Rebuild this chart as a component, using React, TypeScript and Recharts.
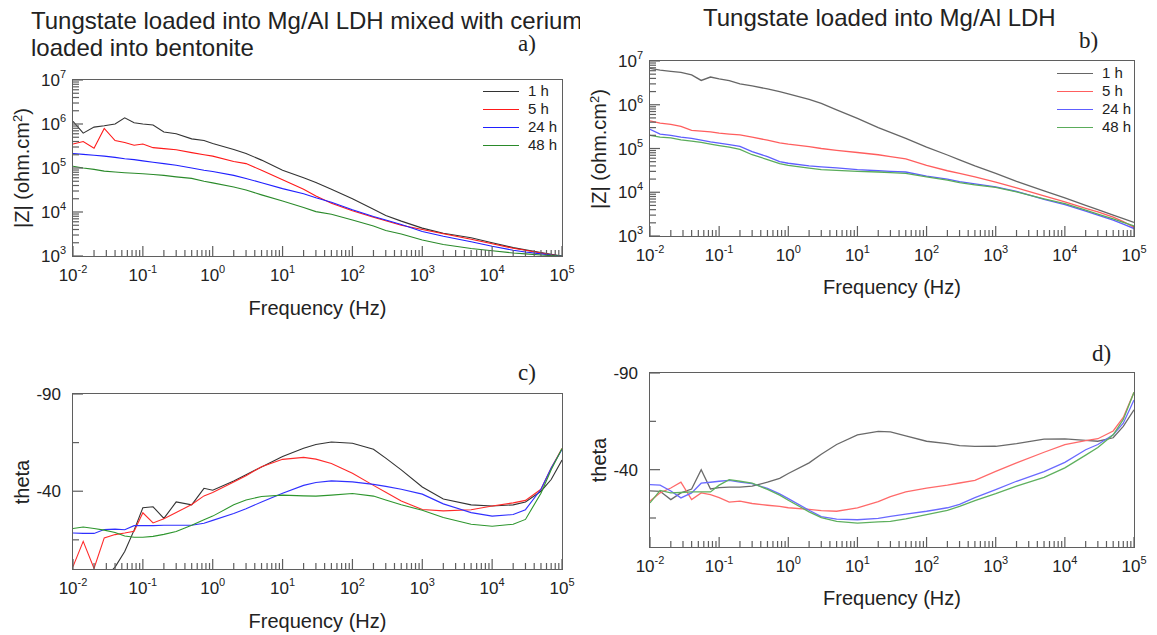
import { LineChart, Line, XAxis, YAxis } from "recharts";

// shared frequency grid (Hz) for every series
const FREQ = [
  0.01, 0.014, 0.02, 0.028, 0.04, 0.055, 0.075, 0.1, 0.14, 0.2, 0.3, 0.5, 0.75, 1, 2, 3, 5, 10, 20, 30, 50,
  100, 200, 300, 500, 1000, 2000, 5000, 1e4, 2e4, 3e4, 5e4, 7e4, 1e5,
];

const SERIES = ["1 h", "5 h", "24 h", "48 h"];

// a) |Z| (ohm.cm2), LDH + cerium in bentonite
const A_1H = [1.15e6, 6.2e5, 8.5e5, 9.1e5, 1.0e6, 1.38e6, 1.07e6, 1.0e6, 9.5e5, 6.6e5, 6.0e5, 4.6e5, 4.2e5, 3.6e5, 2.63e5, 2.14e5, 1.51e5, 8.9e4, 6.0e4, 4.7e4, 3.3e4, 2.0e4, 1.15e4, 8300, 6200, 4300, 3300, 2600, 2000, 1550, 1380, 1200, 1100, 1000];
const A_5H = [3.5e5, 4.0e5, 2.8e5, 7.9e5, 4.2e5, 3.8e5, 3.3e5, 3.5e5, 2.9e5, 2.75e5, 2.6e5, 2.24e5, 2.0e5, 1.86e5, 1.41e5, 1.26e5, 8.9e4, 5.4e4, 3.3e4, 2.3e4, 1.58e4, 1.07e4, 7600, 6300, 5000, 4000, 3200, 2400, 1900, 1500, 1350, 1170, 1070, 1000];
const A_24H = [2.14e5, 2.04e5, 1.95e5, 1.86e5, 1.74e5, 1.62e5, 1.55e5, 1.45e5, 1.35e5, 1.26e5, 1.15e5, 1.0e5, 8.9e4, 8.3e4, 6.8e4, 5.8e4, 4.6e4, 3.4e4, 2.6e4, 2.1e4, 1.66e4, 1.12e4, 7900, 6600, 5200, 3600, 2800, 2100, 1660, 1350, 1230, 1120, 1050, 1000];
const A_48H = [1.1e5, 1.0e5, 9.3e4, 8.5e4, 8.1e4, 7.8e4, 7.6e4, 7.4e4, 7.1e4, 6.8e4, 6.3e4, 5.8e4, 5.0e4, 4.6e4, 3.7e4, 3.16e4, 2.45e4, 1.78e4, 1.26e4, 1.02e4, 8900, 6600, 4800, 3800, 3160, 2300, 1820, 1480, 1320, 1170, 1120, 1050, 1020, 1000];

// b) |Z| (ohm.cm2), LDH only
const B_1H = [6.8e6, 6.2e6, 5.8e6, 5.5e6, 4.8e6, 3.6e6, 4.3e6, 3.9e6, 3.55e6, 3.0e6, 2.7e6, 2.3e6, 2.0e6, 1.78e6, 1.32e6, 1.07e6, 7.6e5, 4.9e5, 3.0e5, 2.34e5, 1.7e5, 1.07e5, 7.1e4, 5.5e4, 4.0e4, 2.7e4, 1.78e4, 1.07e4, 7400, 5000, 4000, 3000, 2500, 2040];
const B_5H = [4.3e5, 3.8e5, 3.55e5, 3.2e5, 2.6e5, 2.5e5, 2.4e5, 2.24e5, 2.14e5, 2.04e5, 1.82e5, 1.55e5, 1.35e5, 1.26e5, 1.1e5, 1.0e5, 9.1e4, 8.1e4, 7.2e4, 6.5e4, 5.8e4, 4.1e4, 3.1e4, 2.7e4, 2.24e4, 1.7e4, 1.26e4, 8300, 6000, 4300, 3550, 2700, 2140, 1580];
const B_24H = [2.75e5, 2.14e5, 2.0e5, 1.82e5, 1.7e5, 1.55e5, 1.41e5, 1.32e5, 1.23e5, 1.12e5, 8.5e4, 6.5e4, 5.0e4, 4.6e4, 4.0e4, 3.8e4, 3.6e4, 3.3e4, 3.1e4, 3.0e4, 2.9e4, 2.34e4, 2.0e4, 1.74e4, 1.55e4, 1.32e4, 1.05e4, 6900, 5200, 3700, 3000, 2300, 1860, 1480];
const B_48H = [2.0e5, 1.82e5, 1.74e5, 1.58e5, 1.48e5, 1.38e5, 1.26e5, 1.17e5, 1.07e5, 9.5e4, 7.2e4, 5.6e4, 4.5e4, 4.1e4, 3.55e4, 3.3e4, 3.16e4, 3.0e4, 2.9e4, 2.8e4, 2.7e4, 2.24e4, 1.9e4, 1.66e4, 1.48e4, 1.29e4, 1.02e4, 7100, 5500, 3900, 3160, 2450, 2040, 1700];

// c) phase angle (deg), LDH + cerium in bentonite
const C_1H = [18, 14, 10, 5, -1, -9, -20, -31.5, -32, -26, -34.5, -33, -41.5, -40.5, -45.3, -48.5, -52.5, -57.8, -62.1, -64, -65.3, -64.7, -61.6, -57, -51, -42.2, -36, -33, -32.4, -33, -34.5, -40, -46, -56];
const C_5H = [-1.2, -14.2, -0.3, -16, -17.7, -18.5, -19.4, -28.9, -23.7, -25.8, -29, -33.2, -37.6, -39.3, -44.8, -48, -52.6, -56.4, -57.4, -56.5, -54.3, -49.2, -43, -39.5, -35, -30.6, -29.9, -30.5, -32.4, -34, -35.3, -41, -52, -62];
const C_24H = [-18.5, -18.3, -18.3, -20.3, -20.5, -20.2, -22.3, -22.3, -22.3, -22.5, -22.5, -22.5, -23.5, -25, -28.5, -31, -34.5, -39, -43, -44.5, -45.3, -44.8, -43.5, -42.5, -41, -38.5, -33.5, -29, -27.2, -28, -30.5, -41, -52, -61.5];
const C_48H = [-20.8, -21.6, -20.8, -20, -18.8, -17, -16.3, -16.3, -16.8, -17.8, -19.3, -22.5, -25.3, -27.2, -33, -35.5, -37.3, -38, -37.6, -37.5, -38, -38.8, -37.5, -35.5, -33, -30.2, -26.5, -23, -22, -23, -25.5, -39, -51, -62];

// d) phase angle (deg), LDH only
const D_1H = [-29, -28.8, -24.5, -28, -30, -40, -30, -30.7, -31, -31, -31.5, -33.5, -35.5, -38, -43.5, -48, -53, -58, -59.8, -59.5, -57.5, -54.7, -53.5, -52.4, -52, -52.1, -53.5, -55.8, -55.9, -55.2, -54.7, -56.5, -62.4, -71];
const D_5H = [-23.7, -28, -30.5, -33.5, -24.5, -28, -27.1, -25.5, -23.2, -23.7, -22.5, -21.6, -21, -20.3, -19.5, -18.8, -18.5, -20.2, -23.5, -26, -28.5, -30.5, -32, -33.1, -34.5, -39.1, -43.5, -49, -53, -55, -56, -60, -67, -80];
const D_24H = [-32.3, -32, -29, -25.4, -28, -33, -33.5, -34, -34.5, -33.6, -32.8, -30.3, -27.5, -25, -19, -15.7, -14.4, -14.1, -14.8, -15.8, -17, -18.5, -20.3, -22, -25.5, -29.7, -34, -39, -43.8, -50.3, -53, -58, -64, -76];
const D_48H = [-22.8, -29.3, -28, -28.2, -28.5, -28.5, -28.5, -32, -34.8, -34, -33, -29.8, -26.8, -24.2, -18.2, -15.2, -13.2, -12.4, -13, -13.3, -14.5, -16.7, -19, -21, -24, -27.6, -31.5, -36, -40.9, -47.5, -51.5, -58, -66, -80];

const THETA_TICKS = [-90, -65, -40, -15];
const THETA_LABELS = [-90, -40];

const FONT = "'Liberation Sans', Arial, sans-serif";
const SERIF = "'Liberation Serif', 'Times New Roman', serif";
const INK = "#222222";
const FRAME = "#5f5f5f";

// log ticks: decades plus 2..9 minors
function logTicks(from: number, to: number) {
  const out: number[] = [];
  for (let d = from; d < to; d++) {
    for (let k = 1; k <= 9; k++) out.push(Number((k * Math.pow(10, d)).toPrecision(3)));
  }
  out.push(Math.pow(10, to));
  return out;
}
const X_TICKS = logTicks(-2, 5);
const Z_TICKS = logTicks(3, 7);

function decade(v: number) {
  const l = Math.log10(v);
  return Math.abs(l - Math.round(l)) < 1e-6 ? Math.round(l) : null;
}

// tick marks are small filled rects pointing into the plot
function FreqTick(props: any) {
  const x = Number(props.x);
  const y = Number(props.y);
  const e = decade(props.payload.value);
  const len = e !== null ? 10 : 6;
  return (
    <g>
      <rect x={x - 0.6} y={y - len} width={1.2} height={len} fill={FRAME} />
      {e !== null && (
        <text x={x} y={y + 25} textAnchor="middle" fontSize={17} fill={INK} fontFamily={FONT}>
          10<tspan dy={-8} fontSize={11}>{e}</tspan>
        </text>
      )}
    </g>
  );
}

function ZTick(props: any) {
  const x = Number(props.x);
  const y = Number(props.y);
  const e = decade(props.payload.value);
  const len = e !== null ? 10 : 6;
  return (
    <g>
      <rect x={x} y={y - 0.6} width={len} height={1.2} fill={FRAME} />
      {e !== null && (
        <text x={x - 7} y={y + 6} textAnchor="end" fontSize={17} fill={INK} fontFamily={FONT}>
          10<tspan dy={-8} fontSize={11}>{e}</tspan>
        </text>
      )}
    </g>
  );
}

function ThetaTick(props: any) {
  const x = Number(props.x);
  const y = Number(props.y);
  const major = THETA_LABELS.includes(props.payload.value);
  const len = major ? 10 : 6;
  return (
    <g>
      <rect x={x} y={y - 0.6} width={len} height={1.2} fill={FRAME} />
      {major && (
        <text x={x - 12} y={y + 6} textAnchor="end" fontSize={17} fill={INK} fontFamily={FONT}>
          {props.payload.value}
        </text>
      )}
    </g>
  );
}

type PanelProps = {
  left: number;
  top: number;
  width: number;
  height: number;
  margin: { top: number; right: number; bottom: number; left: number };
  yWidth: number;
  kind: "z" | "theta";
  series: number[][];
  colors: string[];
  strokeWidth: number;
};

const X_AXIS_H = 60;

function Panel({ left, top, width, height, margin, yWidth, kind, series, colors, strokeWidth }: PanelProps) {
  const rows = FREQ.map((f, i) => {
    const row: Record<string, number> = { f };
    series.forEach((s, k) => (row[`s${k}`] = s[i]));
    return row;
  });
  const isZ = kind === "z";

  // plot box, for the frame drawn around it
  const bx = margin.left + yWidth;
  const by = margin.top;
  const bw = width - margin.right - bx;
  const bh = height - margin.bottom - X_AXIS_H - by;

  return (
    <div style={{ position: "absolute", left, top, width, height }}>
      <LineChart width={width} height={height} data={rows} margin={margin}>
        <XAxis
          dataKey="f"
          type="number"
          scale="log"
          domain={[0.01, 1e5]}
          allowDataOverflow
          ticks={X_TICKS}
          interval={0}
          tickSize={0}
          tickMargin={0}
          tick={FreqTick}
          axisLine={false}
          height={X_AXIS_H}
        />
        {isZ ? (
          <YAxis
            type="number"
            scale="log"
            domain={[1e3, 1e7]}
            allowDataOverflow
            ticks={Z_TICKS}
            interval={0}
            tickSize={0}
            tickMargin={0}
            tick={ZTick}
            axisLine={false}
            width={yWidth}
          />
        ) : (
          <YAxis
            type="number"
            domain={[-90, 0]}
            reversed
            allowDataOverflow
            ticks={THETA_TICKS}
            interval={0}
            tickSize={0}
            tickMargin={0}
            tick={ThetaTick}
            axisLine={false}
            width={yWidth}
          />
        )}
        {SERIES.map((name, k) => (
          <Line
            key={name}
            type="linear"
            dataKey={`s${k}`}
            name={name}
            stroke={colors[k]}
            strokeWidth={strokeWidth}
            dot={false}
            isAnimationActive={false}
          />
        ))}
      </LineChart>
      <div
        style={{
          position: "absolute",
          left: bx - 0.7,
          top: by - 0.7,
          width: bw + 1.4,
          height: bh + 1.4,
          boxSizing: "border-box",
          border: `1.4px solid ${FRAME}`,
          pointerEvents: "none",
        }}
      />
    </div>
  );
}

function LegendBox({ left, top, colors }: { left: number; top: number; colors: string[] }) {
  return (
    <div style={{ position: "absolute", left, top, fontFamily: FONT, fontSize: 15, color: INK }}>
      {SERIES.map((name, k) => (
        <div key={name} style={{ display: "flex", alignItems: "center", height: 18 }}>
          <div style={{ width: 36, height: 0, borderTop: `1.4px solid ${colors[k]}` }} />
          <span style={{ marginLeft: 9, lineHeight: "18px" }}>{name}</span>
        </div>
      ))}
    </div>
  );
}

function Caption({ x, y, size, serif, center, children }: { x: number; y: number; size: number; serif?: boolean; center?: boolean; children: any }) {
  // x,y: left (or centre) and baseline
  return (
    <div
      style={{
        position: "absolute",
        left: x,
        top: y - size * 0.9,
        fontSize: size,
        lineHeight: `${size}px`,
        whiteSpace: "nowrap",
        color: INK,
        fontFamily: serif ? SERIF : FONT,
        transform: center ? "translateX(-50%)" : undefined,
      }}
    >
      {children}
    </div>
  );
}

function YTitle({ cx, cy, children }: { cx: number; cy: number; children: any }) {
  return (
    <div
      style={{
        position: "absolute",
        left: cx,
        top: cy,
        fontSize: 20,
        lineHeight: "22px",
        whiteSpace: "nowrap",
        color: INK,
        fontFamily: FONT,
        transform: "translate(-50%, -50%) rotate(-90deg)",
      }}
    >
      {children}
    </div>
  );
}

const zTitle = (
  <>
    |Z| (ohm.cm<sup style={{ fontSize: 13, verticalAlign: "7px", lineHeight: 0 }}>2</sup>)
  </>
);

const COLORS_A = ["#333333", "#ff1a1a", "#2020ff", "#2a8a2a"];
const COLORS_B = ["#666666", "#ff5e5e", "#5e5eff", "#5aac5a"];
const COLORS_C = ["#333333", "#ff2a2a", "#3030ff", "#2e962e"];
const COLORS_D = ["#6a6a6a", "#ff6a6a", "#6a6aff", "#5fb05f"];

export default function App() {
  return (
    <div style={{ position: "absolute", left: 0, top: 0, width: 1157, height: 635, background: "#fff" }}>
      <div style={{ position: "absolute", left: 0, top: 0, width: 580, height: 70, overflow: "hidden" }}>
        <Caption x={31} y={31} size={24}>Tungstate loaded into Mg/Al LDH mixed with cerium</Caption>
        <Caption x={31} y={58} size={24}>loaded into bentonite</Caption>
      </div>
      <Caption x={518} y={53} size={23} serif>a)</Caption>
      <Caption x={518} y={382} size={23} serif>c)</Caption>
      <Caption x={703} y={28} size={24}>Tungstate loaded into Mg/Al LDH</Caption>
      <Caption x={1079} y={50} size={23} serif>b)</Caption>
      <Caption x={1092} y={363} size={23} serif>d)</Caption>

      <Caption x={317.5} y={316} size={20} center>Frequency (Hz)</Caption>
      <Caption x={892} y={295} size={20} center>Frequency (Hz)</Caption>
      <Caption x={317.5} y={629} size={20} center>Frequency (Hz)</Caption>
      <Caption x={892} y={606} size={20} center>Frequency (Hz)</Caption>
      <YTitle cx={22} cy={168}>{zTitle}</YTitle>
      <YTitle cx={598.5} cy={148.5}>{zTitle}</YTitle>
      <YTitle cx={22} cy={481.5}>theta</YTitle>
      <YTitle cx={598.5} cy={460}>theta</YTitle>

      <LegendBox left={483} top={82} colors={COLORS_A} />
      <LegendBox left={1057} top={64} colors={COLORS_B} />

      <Panel
        left={0}
        top={0}
        width={580}
        height={330}
        margin={{ top: 80, right: 18, bottom: 14, left: 0 }}
        yWidth={73}
        kind="z"
        series={[A_1H, A_5H, A_24H, A_48H]}
        colors={COLORS_A}
        strokeWidth={1.1}
      />
      <Panel
        left={580}
        top={0}
        width={577}
        height={330}
        margin={{ top: 61, right: 23, bottom: 34, left: 0 }}
        yWidth={70}
        kind="z"
        series={[B_1H, B_5H, B_24H, B_48H]}
        colors={COLORS_B}
        strokeWidth={1.3}
      />
      <Panel
        left={0}
        top={330}
        width={580}
        height={305}
        margin={{ top: 64, right: 18, bottom: 6, left: 0 }}
        yWidth={73}
        kind="theta"
        series={[C_1H, C_5H, C_24H, C_48H]}
        colors={COLORS_C}
        strokeWidth={1.1}
      />
      <Panel
        left={580}
        top={330}
        width={577}
        height={305}
        margin={{ top: 43, right: 23, bottom: 28, left: 0 }}
        yWidth={70}
        kind="theta"
        series={[D_1H, D_5H, D_24H, D_48H]}
        colors={COLORS_D}
        strokeWidth={1.3}
      />
    </div>
  );
}
